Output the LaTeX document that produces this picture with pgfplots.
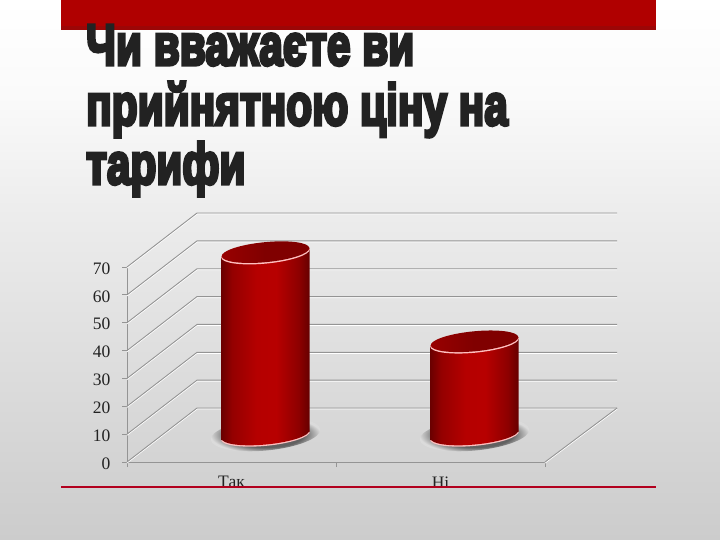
\documentclass[border=0pt]{standalone}
\usepackage{fontspec}
\setmainfont{Liberation Serif}
\newfontfamily\tfont[FakeBold=6]{Liberation Sans Bold}
\usepackage{pgfplots}
\pgfplotsset{compat=1.18}
\usetikzlibrary{shapes.geometric}
\definecolor{wallc}{HTML}{949494}
\definecolor{band}{HTML}{B00000}
\definecolor{bandd}{HTML}{9C0606}
\definecolor{rulec}{HTML}{B2001E}
\definecolor{txt}{HTML}{222222}
\pgfdeclarehorizontalshading{cyl}{100bp}{color(0bp)=(red!42!black); color(25bp)=(red!42!black); color(31bp)=(red!58!black); color(45bp)=(red!71!black); color(56bp)=(red!72!black); color(69bp)=(red!55!black); color(75bp)=(red!40!black); color(100bp)=(red!40!black)}
\pgfdeclarehorizontalshading{cyltop}{100bp}{color(0bp)=(red!60!black); color(25bp)=(red!60!black); color(50bp)=(red!50!black); color(100bp)=(red!50!black)}
\pgfdeclareradialshading{shad}{\pgfpoint{0bp}{0bp}}{color(0bp)=(black!62); color(17bp)=(black!62); color(25bp)=(black!14); color(50bp)=(black!14)}
\pgfdeclareverticalshading{bgs}{100bp}{color(0bp)=(black!20); color(25bp)=(black!20); color(30bp)=(black!18); color(56bp)=(black!7); color(66bp)=(black!2); color(75bp)=(white); color(100bp)=(white)}
\newcommand{\wall}[2]{%
  \addplot[white,line width=0.9pt,yshift=-1pt] coordinates {(0,#1)(0.335,#2)(2.345,#2)};
  \addplot[wallc,line width=0.9pt] coordinates {(0,#1)(0.335,#2)(2.345,#2)};
}
\pgfplotsset{
  cylnode/.style={only marks,mark=none,xshift=34pt,yshift=26pt,
    nodes near coords={},nodes near coords align=center,
    nodes near coords style={ellipse,inner sep=0pt,rotate=5.5,#1}},
  sameaxis/.style={at={(127pt,-462pt)},anchor=south west,
    scale only axis,width=418pt,height=195pt,
    xmin=0,xmax=2,ymin=0,ymax=70,clip=false},
}
\begin{document}
\begin{tikzpicture}[x=1pt,y=1pt]
\path[use as bounding box,shading=bgs] (0,0) rectangle (720,-540);
\begin{axis}[
  sameaxis,
  axis lines*=left,axis line style={-,draw=wallc,line width=0.9pt},
  xtick={0,1,2},xticklabels={Так,Ні},x tick label as interval=true,
  ytick={0,10,20,30,40,50,60,70},
  tick align=outside,tick style={draw=wallc,line width=0.8pt},
  major tick length=5pt,
  ticklabel style={font=\fontsize{17.5}{19}\selectfont,text=txt},
  /pgf/number format/assume math mode=true,
  yticklabel style={xshift=-8pt,yshift=-1.5pt},
  xticklabel style={yshift=-6pt},
]
\wall{0}{19.38}
\wall{10}{29.38}
\wall{20}{39.38}
\wall{30}{49.38}
\wall{40}{59.38}
\wall{50}{69.38}
\wall{60}{79.38}
\wall{70}{89.38}
\addplot[white,line width=0.9pt,yshift=-1pt] coordinates {(2,0)(2.345,19.38)};
\addplot[wallc,line width=0.9pt] coordinates {(2,0)(2.345,19.38)};
% shadows and lower rims
\addplot[cylnode={shading=shad,minimum width=110pt,minimum height=32pt},yshift=1.5pt] coordinates {(0.5,0)(1.5,0)};
\addplot[cylnode={fill=red!25!white,minimum width=89pt,minimum height=20.5pt},yshift=0.4pt] coordinates {(0.5,0)(1.5,0)};
\addplot[cylnode={shading=cyl,minimum width=88pt,minimum height=20pt},yshift=1.5pt] coordinates {(0.5,0)(1.5,0)};
\end{axis}
\begin{axis}[sameaxis,hide axis]
% bodies
\addplot[ybar,bar width=88pt,draw=none,shading=cyl,xshift=34pt,yshift=15.97pt,yslant=0.096] coordinates {(0.5,66)};
\addplot[ybar,bar width=88pt,draw=none,shading=cyl,xshift=34pt,yshift=-4.1pt,yslant=0.096] coordinates {(1.5,34)};
% tops
\addplot[cylnode={fill=red!25!white,minimum width=89pt,minimum height=20.5pt},yshift=-1.2pt] coordinates {(0.5,66)(1.5,34)};
\addplot[cylnode={shading=cyltop,minimum width=88pt,minimum height=20pt}] coordinates {(0.5,66)(1.5,34)};
\end{axis}
\fill[band] (61,0) rectangle (656,-30);
\fill[bandd] (61,-26) rectangle (656,-30);
\draw[rulec,line width=2pt] (61,-487) -- (656,-487);
\node[anchor=base west,inner sep=0pt,text=txt] at (86,-65) {\scalebox{0.73}[1]{\tfont\fontsize{58}{58}\selectfont Чи вважаєте ви}};
\node[anchor=base west,inner sep=0pt,text=txt] at (86,-125) {\scalebox{0.73}[1]{\tfont\fontsize{58}{58}\selectfont прийнятною ціну на}};
\node[anchor=base west,inner sep=0pt,text=txt] at (86,-184) {\scalebox{0.73}[1]{\tfont\fontsize{58}{58}\selectfont тарифи}};
\end{tikzpicture}
\end{document}
